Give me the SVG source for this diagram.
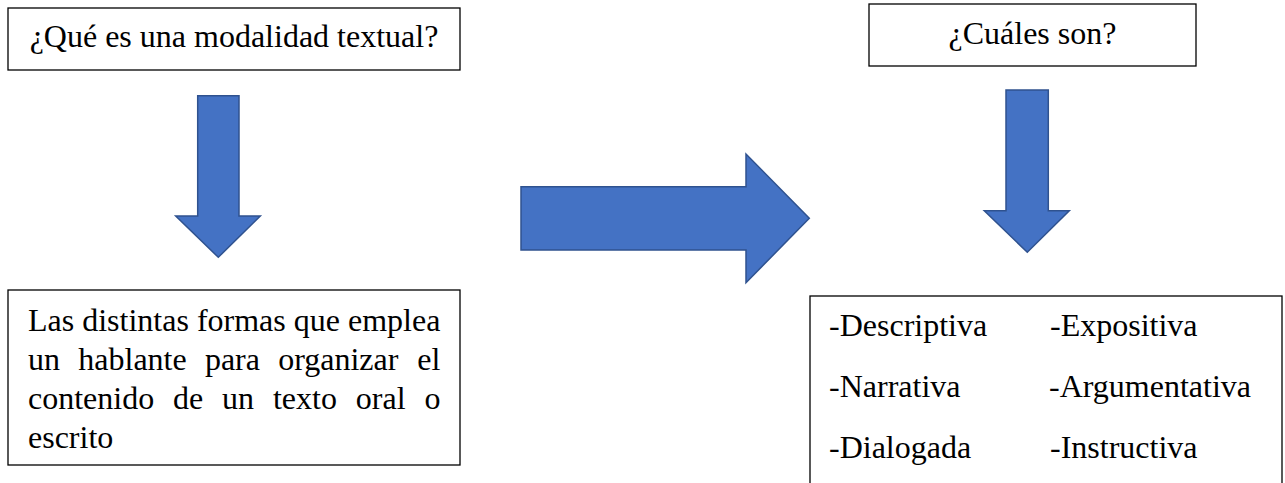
<svg xmlns="http://www.w3.org/2000/svg" width="1285" height="483" viewBox="0 0 1285 483">
<style>
.box{fill:#fff;stroke:#000;stroke-width:1.3}
.arr{fill:#4472C4;stroke:#2F528F;stroke-width:1.5;stroke-linejoin:miter}
.t{font-family:"Liberation Serif","Times New Roman",serif;font-size:32px;fill:#000}
</style>
<rect width="1285" height="483" fill="#fff"/>
<g id="connectors">
<path class="arr" d="M197.7,95.7 H239 V216 H260.3 L218.3,257.3 L175.7,216 H197.7 Z"/>
<path class="arr" d="M521,186.7 H746 V154 L809.3,218.3 L746,282.7 V250 H521 Z"/>
<path class="arr" d="M1006,90 H1048.3 V210.7 H1069.3 L1027.3,252.3 L984.3,210.7 H1006 Z"/>
</g>
<g id="q1">
<rect class="box" x="8" y="8" width="452" height="62"/>
<text class="t" x="234" y="47" text-anchor="middle">¿Qué es una modalidad textual?</text>
</g>
<g id="def">
<rect class="box" x="8" y="290" width="452" height="175"/>
<text class="t" x="28" y="331">Las distintas formas que emplea</text>
<text class="t" y="370"><tspan x="28">un</tspan><tspan x="78.3">hablante</tspan><tspan x="204.9">para</tspan><tspan x="278.2">organizar</tspan><tspan x="417.3">el</tspan></text>
<text class="t" y="409"><tspan x="28">contenido</tspan><tspan x="173">de</tspan><tspan x="222.1">un</tspan><tspan x="272.9">texto</tspan><tspan x="355.8">oral</tspan><tspan x="424.4">o</tspan></text>
<text class="t" x="28" y="448">escrito</text>
</g>
<g id="q2">
<rect class="box" x="869" y="4" width="327" height="62"/>
<text class="t" x="1032.5" y="43.5" text-anchor="middle">¿Cuáles son?</text>
</g>
<g id="types">
<rect class="box" x="810" y="296" width="472" height="200"/>
<text class="t" x="829" y="336">-Descriptiva</text>
<text class="t" x="1050" y="336">-Expositiva</text>
<text class="t" x="829" y="397">-Narrativa</text>
<text class="t" x="1049" y="397">-Argumentativa</text>
<text class="t" x="829" y="458">-Dialogada</text>
<text class="t" x="1050" y="458">-Instructiva</text>
</g>
</svg>
